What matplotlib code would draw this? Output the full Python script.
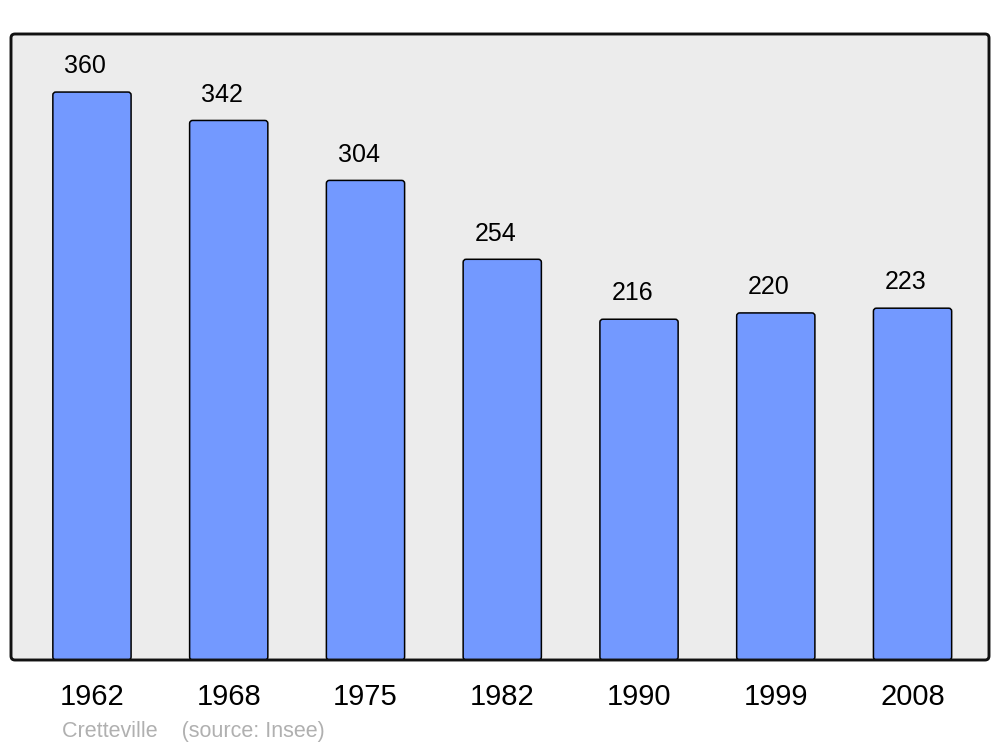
import matplotlib
matplotlib.use("Agg")
import matplotlib.pyplot as plt
from matplotlib.patches import FancyBboxPatch

years = ["1962", "1968", "1975", "1982", "1990", "1999", "2008"]
population = [360, 342, 304, 254, 216, 220, 223]
source_text = "Cretteville    (source: Insee)"

plt.rcParams['font.family'] = ['Liberation Sans', 'DejaVu Sans']

W, H = 1000, 747
fig = plt.figure(figsize=(W / 100, H / 100), dpi=100)
fig.patch.set_facecolor("white")
ax = fig.add_axes([11 / W, 1 - 660 / H, 978 / W, 626 / H])
ax.set_facecolor("none")
for s in ax.spines.values():
    s.set_visible(False)

x = list(range(len(years)))
ax.set_xlim(-0.592, 6.559)
ax.set_ylim(0, 396.8)

bars = ax.bar(x, population, width=0.572, color="#7399ff", edgecolor="black", linewidth=1.1)

# rounded versions of the bars
fig.canvas.draw()
px_x = ax.transData.transform((1, 0))[0] - ax.transData.transform((0, 0))[0]
px_y = ax.transData.transform((0, 1))[1] - ax.transData.transform((0, 0))[1]
for r in bars:
    bx, by, bw, bh = r.get_x(), r.get_y(), r.get_width(), r.get_height()
    rad = 3 / px_x
    p = FancyBboxPatch((bx, by), bw, bh,
                       boxstyle=f"round,pad=0,rounding_size={rad}",
                       mutation_aspect=px_x / px_y,
                       facecolor="#7399ff", edgecolor="black", linewidth=1.1, zorder=2)
    ax.add_patch(p)
    r.set_visible(False)

for xi, v in zip(x, population):
    ax.annotate(str(v), (xi, v), xytext=(-5, 13.5), textcoords="offset points",
                ha="center", va="baseline", fontsize=18, color="black")

# background and frame
aw, ah = 978, 626
bg = FancyBboxPatch((0, 0), 1, 1, boxstyle=f"round,pad=0,rounding_size={4 / aw}",
                    mutation_aspect=aw / ah, transform=ax.transAxes,
                    facecolor="#ececec", edgecolor="none", zorder=0, clip_on=False)
ax.add_patch(bg)
fr = FancyBboxPatch((0, 0), 1, 1, boxstyle=f"round,pad=0,rounding_size={4 / aw}",
                    mutation_aspect=aw / ah, transform=ax.transAxes,
                    facecolor="none", edgecolor="#111111", linewidth=2.1, zorder=5, clip_on=False)
ax.add_patch(fr)

ax.set_xticks(x)
ax.set_xticklabels(years, fontsize=21)
ax.tick_params(axis="x", length=0, pad=16.5)
ax.set_yticks([])

fig.text(62 / W, 1 - 737 / H, source_text, fontsize=15.5, color="#b0b0b0",
         ha="left", va="baseline")

fig.savefig("out.png", dpi=100)
